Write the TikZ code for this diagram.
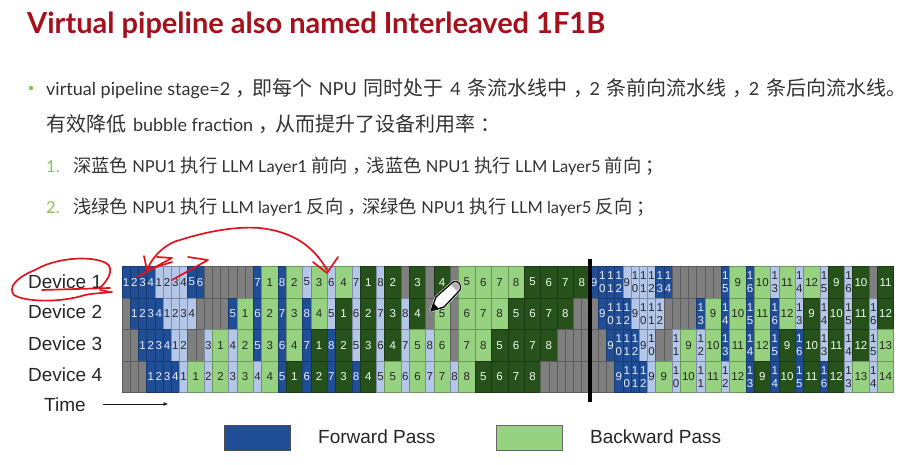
\documentclass[tikz,border=0pt]{standalone}
\usepackage{fontspec}
\setmainfont{Lato}
\newfontfamily\zhf{Noto Sans CJK SC}
\newfontfamily\rb{Liberation Sans}
\usetikzlibrary{arrows.meta}
\definecolor{dblue}{HTML}{1F4E96}
\definecolor{lblue}{HTML}{B4C7E9}
\definecolor{lgreen}{HTML}{96D27F}
\definecolor{dgreen}{HTML}{27511B}
\definecolor{gcell}{HTML}{7F7F7F}
\definecolor{titlered}{HTML}{A5101C}
\definecolor{bodytext}{HTML}{333333}
\definecolor{listgreen}{HTML}{8CC152}
\definecolor{inkred}{HTML}{E0141E}
\newcount\ux
\def\st#1#2{#1\\#2}
\newcommand{\za}[1]{{\zhf\fontsize{20}{22}\selectfont #1}}
\newcommand{\zpa}[1]{{\zhf\fontsize{20}{22}\selectfont\kern5.5pt #1\kern-3.5pt}}
\newcommand{\zb}[1]{{\zhf\fontsize{18.3}{20}\selectfont #1}}
\newcommand{\zpb}[1]{{\zhf\fontsize{18.3}{20}\selectfont\kern4.5pt #1\kern-4pt}}
\newcommand{\zs}{\kern2.2pt}
\newcommand{\cellrow}[3]{%
  \global\ux=0
  \foreach \tp/\wu/\lb in {#3}{%
    \edef\cn{\the\ux}%
    \node[cellbox,\tp,minimum width=\wu*8.21pt,minimum height=#2pt] (r#1c\cn) at ({122+\cn*8.21},{266.3+(#1-1)*31.6}) {\lb};
    \global\advance\ux by \wu\relax
  }%
}
\tikzset{
  cellbox/.style={rectangle,anchor=north west,inner sep=0pt,outer sep=0pt,align=center,line width=0.6pt,
    font=\rb\fontsize{11.5}{13}\selectfont},
  cD/.style={fill=dblue,draw=dblue!75!black,text=white!92!blue},
  cL/.style={fill=lblue,draw=lblue!70!black,text=black!85},
  cG/.style={fill=lgreen,draw=lgreen!72!black,text=black!85},
  cK/.style={fill=dgreen,draw=dgreen!70!black,text=white!92!green},
  cN/.style={fill=gcell,draw=gcell!72!black},
  bodyline/.style={anchor=base west,inner sep=0pt,text=bodytext,font=\fontsize{18}{20}\selectfont},
  subline/.style={anchor=base west,inner sep=0pt,text=bodytext,font=\fontsize{16.5}{18}\selectfont},
  devlabel/.style={anchor=base west,inner sep=0pt,text=black!85,font=\rb\fontsize{19}{20}\selectfont},
  inkline/.style={draw=inkred,line width=1.7pt,line cap=round,line join=round},
  legendbox/.style={rectangle,anchor=north west,inner sep=0pt,minimum width=66pt,minimum height=25pt,line width=1pt}
}
\begin{document}
\begin{tikzpicture}[x=1pt,y=-1pt]
\useasboundingbox (0,0) rectangle (919,465);
\fill[white] (0,0) rectangle (919,465);
\node[anchor=base west,inner sep=0pt,text=titlered,font=\bfseries\fontsize{29}{32}\selectfont] (title) at (27,34) {Virtual pipeline also named Interleaved 1F1B};
\node[circle,fill=listgreen,inner sep=0pt,minimum size=4.5pt] (bullet) at (31,88) {};
\node[bodyline] (l1) at (46,96) {virtual pipeline stage=2\zpa{，}\za{即每个}\zs{} NPU \zs\za{同时处于}\zs{} 4 \zs\za{条流水线中}\zpa{，}2 \zs\za{条前向流水线}\zpa{，}2 \zs\za{条后向流水线。}};
\node[bodyline] (l2) at (46,132) {\za{有效降低}\zs{} bubble fraction\zpa{，}\za{从而提升了设备利用率}\zpa{：}};
\node[subline,text=listgreen] (n1) at (46,173) {1.};
\node[subline] (l3) at (73,173) {\zb{深蓝色} NPU1 \zb{执行} LLM Layer1 \zb{前向}\zpb{，}\zb{浅蓝色} NPU1 \zb{执行} LLM Layer5 \zb{前向}\zpb{；}};
\node[subline,text=listgreen] (n2) at (46,214) {2.};
\node[subline] (l4) at (73,214) {\zb{浅绿色} NPU1 \zb{执行} LLM layer1 \zb{反向}\zpb{，}\zb{深绿色} NPU1 \zb{执行} LLM layer5 \zb{反向}\zpb{；}};
% grid
\cellrow{1}{31.6}{cD/1/1,cD/1/2,cD/1/3,cD/1/4,cL/1/1,cL/1/2,cL/1/3,cL/1/4,cD/1/5,cD/1/6,
 cN/1/{},cN/1/{},cN/1/{},cN/1/{},cN/1/{},cN/1/{},
 cD/1/7,cG/2/1,cD/1/8,cG/2/2,cL/1/5,cG/2/3,cL/1/6,cG/2/4,cL/1/7,cK/2/1,cL/1/8,cK/2/2,cN/1/{},cK/2/3,cN/1/{},cK/2/4,cN/1/{},
 cG/2/5,cG/2/6,cG/2/7,cG/2/8,cK/2/5,cK/2/6,cK/2/7,cK/2/8,
 cD/1/9,cD/1/\st10,cD/1/\st11,cD/1/\st12,cL/1/9,cL/1/\st10,cL/1/\st11,cL/1/\st12,cD/1/\st13,cD/1/\st14,
 cN/1/{},cN/1/{},cN/1/{},cN/1/{},cN/1/{},cN/1/{},
 cD/1/\st15,cG/2/9,cD/1/\st16,cG/2/10,cL/1/\st13,cG/2/11,cL/1/\st14,cG/2/12,cL/1/\st15,cK/2/9,cL/1/\st16,cK/2/10,cN/1/{},cK/2/11}
\cellrow{2}{31.6}{cN/1/{},cD/1/1,cD/1/2,cD/1/3,cD/1/4,cL/1/1,cL/1/2,cL/1/3,cL/1/4,
 cN/1/{},cN/1/{},cN/1/{},cN/1/{},
 cD/1/5,cG/2/1,cD/1/6,cG/2/2,cD/1/7,cG/2/3,cD/1/8,cG/2/4,cL/1/5,cK/2/1,cL/1/6,cK/2/2,cL/1/7,cK/2/3,cL/1/8,cK/2/4,cN/1/{},cG/2/5,cN/1/{},
 cG/2/6,cG/2/7,cG/2/8,cK/2/5,cK/2/6,cK/2/7,cK/2/8,cN/1/{},cN/1/{},cN/1/{},
 cD/1/9,cD/1/\st10,cD/1/\st11,cD/1/\st12,cL/1/9,cL/1/\st10,cL/1/\st11,cL/1/\st12,
 cN/1/{},cN/1/{},cN/1/{},cN/1/{},
 cD/1/\st13,cG/2/9,cD/1/\st14,cG/2/10,cD/1/\st15,cG/2/11,cD/1/\st16,cG/2/12,cL/1/\st13,cK/2/9,cL/1/\st14,cK/2/10,cL/1/\st15,cK/2/11,cL/1/\st16,cK/2/12}
\cellrow{3}{31.6}{cN/1/{},cN/1/{},cD/1/1,cD/1/2,cD/1/3,cD/1/4,cL/1/1,cL/1/2,cN/1/{},cN/1/{},
 cL/1/3,cG/2/1,cL/1/4,cG/2/2,cD/1/5,cG/2/3,cD/1/6,cG/2/4,cD/1/7,cK/2/1,cD/1/8,cK/2/2,cL/1/5,cK/2/3,cL/1/6,cK/2/4,cL/1/7,cG/2/5,cL/1/8,cG/2/6,cN/1/{},
 cG/2/7,cG/2/8,cK/2/5,cK/2/6,cK/2/7,cK/2/8,cN/1/{},cN/1/{},cN/1/{},cN/1/{},cN/1/{},cN/1/{},
 cD/1/9,cD/1/\st10,cD/1/\st11,cD/1/\st12,cL/1/9,cL/1/\st10,cN/1/{},cN/1/{},
 cL/1/\st11,cG/2/9,cL/1/\st12,cG/2/10,cD/1/\st13,cG/2/11,cD/1/\st14,cG/2/12,cD/1/\st15,cK/2/9,cD/1/\st16,cK/2/10,cL/1/\st13,cK/2/11,cL/1/\st14,cK/2/12,cL/1/\st15,cG/2/13}
\cellrow{4}{31.6}{cN/1/{},cN/1/{},cN/1/{},cD/1/1,cD/1/2,cD/1/3,cD/1/4,cL/1/1,cG/2/1,cL/1/2,cG/2/2,cL/1/3,cG/2/3,cL/1/4,cG/2/4,
 cD/1/5,cK/2/1,cD/1/6,cK/2/2,cD/1/7,cK/2/3,cD/1/8,cK/2/4,cL/1/5,cG/2/5,cL/1/6,cG/2/6,cL/1/7,cG/2/7,cL/1/8,cG/2/8,cK/2/5,cK/2/6,cK/2/7,cK/2/8,
 cN/1/{},cN/1/{},cN/1/{},cN/1/{},cN/1/{},cN/1/{},cN/1/{},cN/1/{},cN/1/{},
 cD/1/9,cD/1/\st10,cD/1/\st11,cD/1/\st12,cL/1/9,cG/2/9,cL/1/\st10,cG/2/10,cL/1/\st11,cG/2/11,cL/1/\st12,cG/2/12,cD/1/\st13,cK/2/9,cD/1/\st14,cK/2/10,cD/1/\st15,cK/2/11,cD/1/\st16,cK/2/12,cL/1/\st13,cG/2/13,cL/1/\st14,cG/2/14}
% separator bar
\coordinate (barA) at (590,259);
\coordinate (barB) at (590,402);
\draw[black,line width=3.6pt] (barA) -- (barB);
% row labels
\node[devlabel] (d1) at (28,288.5) {Device 1};
\node[devlabel] (d2) at (28,319) {Device 2};
\node[devlabel] (d3) at (28,350) {Device 3};
\node[devlabel] (d4) at (28,381) {Device 4};
\node[devlabel] (time) at (44,411.5) {Time};
\coordinate (tA) at (103,404);
\coordinate (tB) at (168.5,404);
\draw[-{Latex[length=5pt,width=4pt]},line width=0.9pt,black!90] (tA) -- (tB);
% legend
\node[legendbox,fill=dblue,draw=black!70] (lg1) at (223.5,425) {};
\node[devlabel] (lt1) at (318,443.5) {Forward Pass};
\node[legendbox,fill=lgreen,draw=black!60] (lg2) at (496,425) {};
\node[devlabel] (lt2) at (590,443.5) {Backward Pass};
% red ink
\draw[inkline] (100,288) .. controls (110,278) and (114,268) .. (106,263) .. controls (90,255) and (55,258) .. (35,270) .. controls (15,278) and (8,288) .. (14,295) .. controls (25,302) and (60,303) .. (85,295) .. controls (95,293) and (105,293) .. (112,292);
\draw[inkline] (42,290) -- (110,288);
\draw[inkline] (100,290) -- (110,292);
\draw[inkline] (148,268) .. controls (155,252) and (170,242) .. (180,240) .. controls (205,232) and (235,226) .. (260,228) .. controls (285,231) and (310,240) .. (327,270);
\draw[inkline] (313,262) -- (327,273) -- (338,257);
\draw[inkline] (144,256) -- (147,270) -- (172,262);
\draw[inkline] (137,277) -- (172,258) -- (157,257);
\draw[inkline] (172,280) -- (208,260) -- (188,257);
% pencil cursor
\draw[white,line width=2.4pt,line join=round,fill=white] (431,311) -- (436,297) -- (453,282) .. controls (457,279) and (463,285) .. (460,290) -- (444,307) -- cycle;
\draw[black,line width=1.3pt,line join=round,fill=white] (431,311) -- (436,297) -- (453,282) .. controls (457,279) and (463,285) .. (460,290) -- (444,307) -- cycle;
\fill[black] (431,311) -- (433,303) -- (438,308) -- cycle;
\fill[black!30] (451,285) -- (457,291) -- (459.5,288) .. controls (461,284) and (456,281) .. (453.5,283) -- cycle;
\end{tikzpicture}
\end{document}
